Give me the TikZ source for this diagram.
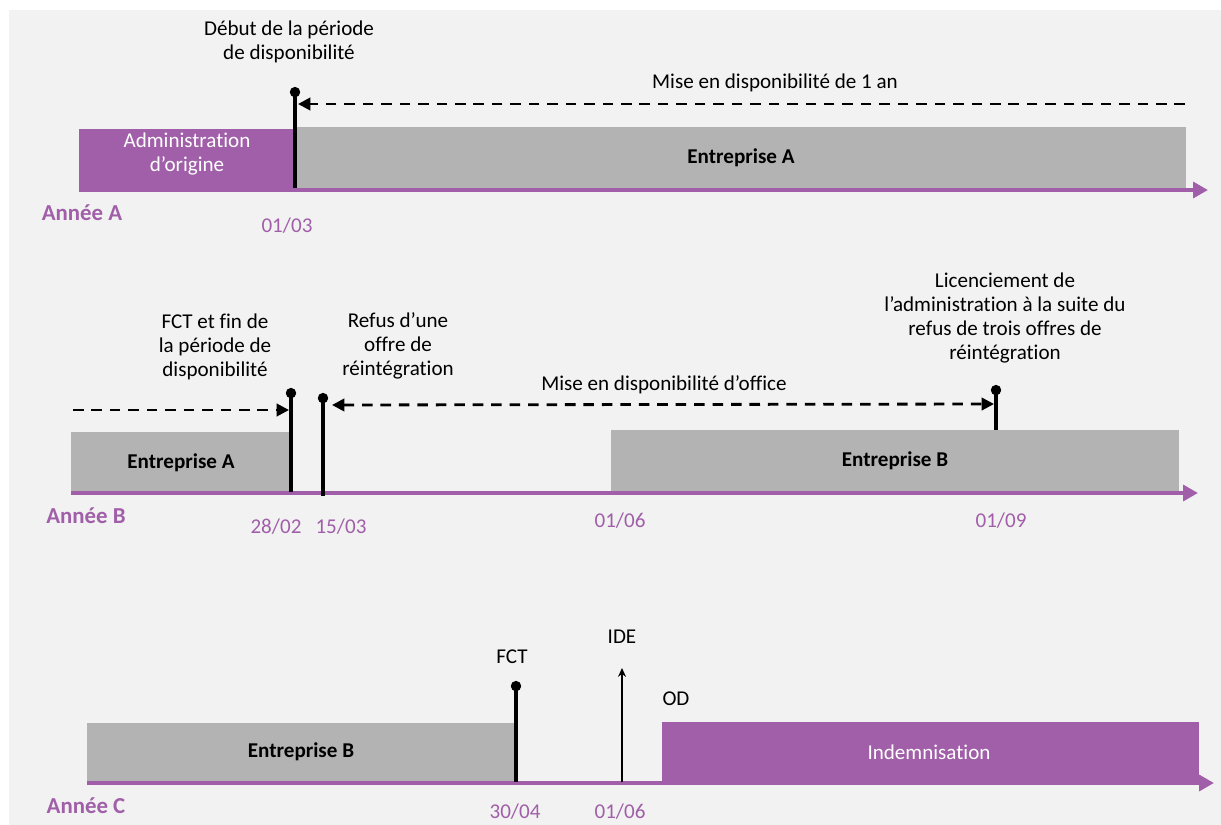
\documentclass[tikz,border=0pt]{standalone}
\usepackage{fontspec}
\setmainfont{Carlito}[Ligatures=NoCommon]
\usetikzlibrary{arrows.meta}
\definecolor{violetA}{HTML}{A05FA8}
\definecolor{grisbox}{HTML}{B3B3B3}
\definecolor{fond}{HTML}{F2F2F2}

\begin{document}
\begin{tikzpicture}[x=0.02cm,y=-0.02cm,
    every node/.style={font=\fontsize{12}{13.6}\selectfont, align=center},
    axe/.style={draw=violetA, line width=2.2pt, -{Triangle[length=8.5pt,width=9pt]}},
    jalon/.style={line width=1.9pt, -{Circle[length=5.8pt]}},
    duree/.style={line width=1.6pt, dash pattern=on 6pt off 4.5pt},
    pointe/.style={-{Triangle[length=7pt,width=7pt]}},
    date/.style={text=violetA, font=\fontsize{12}{14}\selectfont},
    annee/.style={text=violetA, font=\fontsize{13}{15}\selectfont\bfseries},
    entreprise/.style={font=\fontsize{12}{14}\selectfont\bfseries}]
                \useasboundingbox (0,0) rectangle (1221,825);
                \fill[fond] (9,10) rectangle (1221,825);

                % Annee A
                \fill[violetA] (79,129) rectangle (294,190);
                \fill[grisbox] (296,127) rectangle (1186,188);
                \coordinate (axeA0) at (79,190);
                \coordinate (axeA1) at (1208,190);
                \draw[axe] (axeA0) -- (axeA1);
                \node[text=white] (admin) at (187,154) {Administration\\d’origine};
                \node[entreprise] (entA) at (741,158) {Entreprise A};

                \coordinate (piedA) at (295,188);
                \coordinate (teteA) at (295,87);
                \draw[jalon] (piedA) -- (teteA);
                \coordinate (finA) at (1185,104);
                \coordinate (debA) at (298,104);
                \draw[duree,pointe] (finA) -- (debA);

                \node (debut) at (289,42) {Début de la période\\de disponibilité};
                \node (mise1) at (775,83) {Mise en disponibilité de 1 an};
                \node[annee] (anA) at (82,213) {Année A};
                \node[date] (d0103) at (287,226) {01/03};

                % Annee B
                \fill[grisbox] (71,432) rectangle (291,492);
                \fill[grisbox] (611,430) rectangle (1179,491);
                \coordinate (axeB0) at (71,493);
                \coordinate (axeB1) at (1198,493);
                \draw[axe] (axeB0) -- (axeB1);
                \node[entreprise] (entAB) at (181,463) {Entreprise A};
                \node[entreprise] (entBB) at (895,461) {Entreprise B};

                \coordinate (piedB1) at (291,492);
                \coordinate (teteB1) at (291,388);
                \draw[jalon] (piedB1) -- (teteB1);
                \coordinate (piedB2) at (323,496);
                \coordinate (teteB2) at (323,393);
                \draw[jalon] (piedB2) -- (teteB2);
                \coordinate (piedB3) at (996,430);
                \coordinate (teteB3) at (996,385);
                \draw[jalon] (piedB3) -- (teteB3);

                \coordinate (dispo0) at (73,410);
                \coordinate (dispo1) at (289,410);
                \draw[duree,pointe] (dispo0) -- (dispo1);
                \coordinate (office0) at (332,405);
                \coordinate (office1) at (994,404);
                \draw[duree,{Triangle[length=7pt,width=7pt]}-{Triangle[length=7pt,width=7pt]}] (office0) -- (office1);

                \node (fct1) at (215,347) {FCT et fin de\\la période de\\disponibilité};
                \node (refus) at (398,346) {Refus d’une\\offre de\\réintégration};
                \node (office) at (664,385) {Mise en disponibilité d’office};
                \node (licen) at (1005,318) {Licenciement de\\l’administration à la suite du\\refus de trois offres de\\réintégration};

                \node[annee] (anB) at (86,516) {Année B};
                \node[date] (d2802) at (276,527) {28/02};
                \node[date] (d1503) at (341,527) {15/03};
                \node[date] (d0106) at (620,521) {01/06};
                \node[date] (d0109) at (1001,521) {01/09};

                % Annee C
                \fill[grisbox] (87,723) rectangle (516,782);
                \fill[violetA] (662,722) rectangle (1199,783);
                \coordinate (axeC0) at (87,783);
                \coordinate (axeC1) at (1214,783);
                \draw[axe] (axeC0) -- (axeC1);
                \node[entreprise] (entBC) at (301,752) {Entreprise B};
                \node[text=white] (indem) at (929,752) {Indemnisation};

                \coordinate (piedC1) at (516,782);
                \coordinate (teteC1) at (516,681);
                \draw[jalon] (piedC1) -- (teteC1);
                \coordinate (piedC2) at (622,782);
                \coordinate (teteC2) at (622,668);
                \draw[line width=1.2pt,-{Stealth[length=5pt,width=4.5pt]}] (piedC2) -- (teteC2);

                \node (fct2) at (512,657) {FCT};
                \node (ide) at (622,637) {IDE};
                \node (od) at (676,699) {OD};

                \node[annee] (anC) at (86,806) {Année C};
                \node[date] (d3004) at (515,812) {30/04};
                \node[date] (d0106c) at (620,812) {01/06};
            \end{tikzpicture}
\end{document}
